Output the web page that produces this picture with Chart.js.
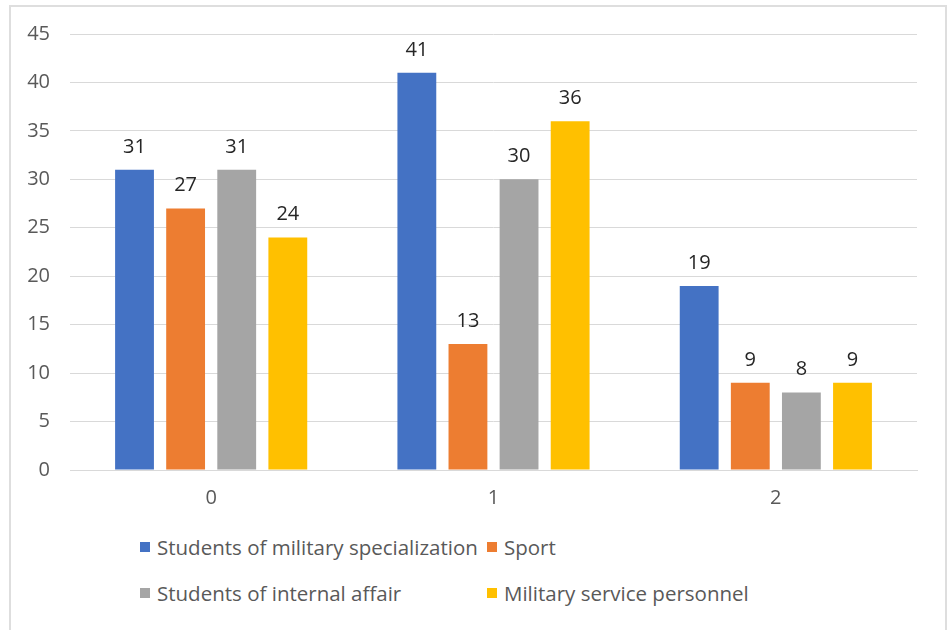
<!DOCTYPE html>
<html>
<head>
<meta charset="utf-8">
<script src="https://cdn.jsdelivr.net/npm/chart.js@4.4.1/dist/chart.umd.min.js"></script>
<style>
    body { margin: 0; background: #fff; font-family: "Open Sans", sans-serif; }
    .frame {
        position: absolute; left: 9px; top: 5px;
        width: 934px; height: 700px;
        border: 2px solid #dedede;
    }
    .chart-box { position: absolute; left: 0; top: 0; width: 948px; height: 520px; }
    #legend {
        position: absolute; left: 140px; top: 534px;
        display: grid; grid-template-columns: 347px 300px;
        row-gap: 20px;
        font-size: 20.5px; color: #595959;
    }
    #legend .item { display: flex; align-items: center; height: 26px; white-space: nowrap; }
    #legend .box { width: 10px; height: 10px; margin-right: 7px; }
</style>
</head>
<body>
<div class="frame"></div>
<div class="chart-box"><canvas id="barChart"></canvas></div>
<div id="legend"></div>

<script>
// Chart data
const categories = ['0', '1', '2'];
const seriesNames = [
    'Students of military specialization',
    'Sport',
    'Students of internal affair',
    'Military service personnel'
];
const militaryStudents = [31, 41, 19];
const sport = [27, 13, 9];
const internalAffairStudents = [31, 30, 8];
const servicePersonnel = [24, 36, 9];
const seriesColors = ['#4472C4', '#ED7D31', '#A5A5A5', '#FFC000'];

const seriesValues = [militaryStudents, sport, internalAffairStudents, servicePersonnel];

// Writes each bar's value just above it
const valueLabels = {
    id: 'valueLabels',
    afterDatasetsDraw(chart) {
        const ctx = chart.ctx;
        ctx.save();
        ctx.font = '20px "Open Sans", sans-serif';
        ctx.fillStyle = '#262626';
        ctx.textAlign = 'center';
        ctx.textBaseline = 'alphabetic';
        chart.data.datasets.forEach((ds, i) => {
            chart.getDatasetMeta(i).data.forEach((bar, j) => {
                ctx.fillText(ds.data[j], bar.x, bar.y - 17);
            });
        });
        ctx.restore();
    }
};

const chart = new Chart(document.getElementById('barChart'), {
    type: 'bar',
    data: {
        labels: categories,
        datasets: seriesNames.map((name, i) => ({
            label: name,
            data: seriesValues[i],
            backgroundColor: seriesColors[i],
            categoryPercentage: 0.724,
            barPercentage: 0.76
        }))
    },
    options: {
        responsive: true,
        maintainAspectRatio: false,
        animation: false,
        layout: { padding: { top: 34, right: 31, bottom: 5, left: 0 } },
        plugins: {
            legend: { display: false },
            tooltip: { enabled: false }
        },
        scales: {
            x: {
                grid: { display: false, drawTicks: false },
                border: { display: true, color: '#d9d9d9', width: 1 },
                ticks: {
                    padding: 16,
                    color: '#595959',
                    font: { family: '"Open Sans", sans-serif', size: 20 }
                },
                afterFit(scale) { scale.height = 45; }
            },
            y: {
                min: 0,
                max: 45,
                ticks: {
                    stepSize: 5,
                    padding: 20,
                    color: '#595959',
                    font: { family: '"Open Sans", sans-serif', size: 20 }
                },
                grid: { color: '#d9d9d9', lineWidth: 1, drawTicks: false },
                border: { display: false },
                afterFit(scale) { scale.width = 70; }
            }
        }
    },
    plugins: [valueLabels]
});

// Two-column legend under the chart
const legend = document.getElementById('legend');
chart.data.datasets.forEach(ds => {
    const item = document.createElement('div');
    item.className = 'item';
    const box = document.createElement('span');
    box.className = 'box';
    box.style.background = ds.backgroundColor;
    item.appendChild(box);
    item.appendChild(document.createTextNode(ds.label));
    legend.appendChild(item);
});
</script>
</body>
</html>
